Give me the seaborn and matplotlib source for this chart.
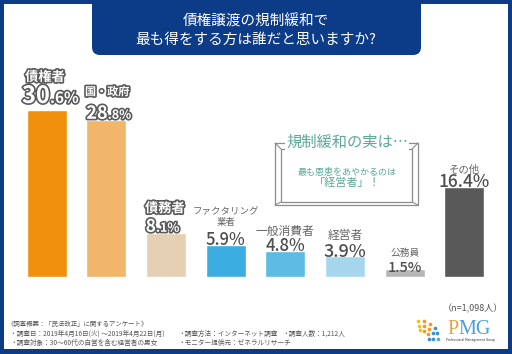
import numpy as np
import matplotlib.pyplot as plt
import matplotlib.patheffects as pe
from matplotlib.patches import FancyBboxPatch, Rectangle
import seaborn as sns

# Data
categories = ['債権者', '国・政府', '債務者', 'ファクタリング業者', '一般消費者', '経営者', '公務員', 'その他']
values = [30.6, 28.8, 8.1, 5.9, 4.8, 3.9, 1.5, 16.4]
bar_colors = ['#f0900c', '#f1b66a', '#e6d0b4', '#3cade0', '#5dbbe4', '#a6d6ee', '#b6b6b6', '#595959']
navy = '#0c3b87'
teal = '#5aa898'

sns.set_theme(style='white')
plt.rcParams['font.family'] = ['Noto Sans CJK JP', 'DejaVu Sans']

fig = plt.figure(figsize=(5.12, 3.54), dpi=100)
fig.patch.set_facecolor('white')

# background axes in pixel units for the decorations
bg = fig.add_axes([0, 0, 1, 1])
bg.set_xlim(0, 512)
bg.set_ylim(354, 0)
bg.axis('off')

# bar axes
ax = fig.add_axes([16.65 / 512, 77 / 354, 477.7 / 512, 191.1 / 354])
ax.patch.set_alpha(0)
sns.barplot(x=categories, y=values, hue=categories, palette=bar_colors, legend=False,
            width=0.67, saturation=1, ax=ax)
ax.set_xlim(-0.5, 7.5)
ax.set_ylim(0, 35)
ax.axis('off')

PX = 0.72  # pixels -> points at 100 dpi
outline = [pe.withStroke(linewidth=2.4, foreground='#5a5a5a')]


def note(i, txt, dx, dy, **kw):
    ax.annotate(txt, xy=(i, values[i]), xytext=(dx * PX, dy * PX),
                textcoords='offset points', annotation_clip=False, **kw)


# outlined big labels: (integer part, decimal part, split dx, baseline dy, sizes, name, name dx, name dy, name size)
big = [
    ('30', '.6%', 3.5, 7, 17, 11, '債権者', -1.5, 33, 9.5),
    ('28', '.8%', 1.5, 1, 13, 9, '国・政府', 1, 28, 8),
    ('8', '.1%', -10, 1, 12.5, 9, '債務者', -1, 24.5, 9.5),
]
for i, (ip, dp, sx, by, s1, s2, name, nx, ny, ns) in enumerate(big):
    note(i, ip, sx, by, ha='right', va='baseline', fontsize=s1, color='white',
         fontweight='bold', path_effects=outline)
    note(i, dp, sx, by, ha='left', va='baseline', fontsize=s2, color='white',
         fontweight='bold', path_effects=outline)
    note(i, name, nx, ny, ha='center', va='center', fontsize=ns, color='white',
         fontweight='bold', path_effects=outline)

# plain labels: (index, value text, baseline dy, size, name lines)
plain = [
    (3, '5.9%', 0, 12, [('ファクタリング', 33, 6.8), ('業者', 22, 6.8)]),
    (4, '4.8%', 0, 12, [('一般消費者', 19, 8.5)]),
    (5, '3.9%', -1, 13, [('経営者', 20, 8.5)]),
    (6, '1.5%', -3, 10.5, [('公務員', 16, 7)]),
    (7, '16.4%', 0, 12.5, [('その他', 18, 7.5)]),
]
for i, vt, by, s, names in plain:
    note(i, vt, 0, by, ha='center', va='baseline', fontsize=s, color='#4f4f4f', fontweight='medium')
    for name, ny, ns in names:
        note(i, name, 0, ny, ha='center', va='center', fontsize=ns, color='#666666')

# navy border
for r in [(0, 0, 512, 4), (0, 0, 4, 354), (508, 0, 4, 354), (0, 349, 512, 5)]:
    bg.add_patch(Rectangle(r[:2], r[2], r[3], color=navy, lw=0))

# title banner
bg.add_patch(FancyBboxPatch((92, -20), 329, 75, boxstyle='round,pad=0,rounding_size=8',
                            color=navy, lw=0))
bg.text(256, 21, '債権譲渡の規制緩和で', ha='center', va='center', fontsize=10.5, color='white')
bg.text(256, 40, '最も得をする方は誰だと思いますか?', ha='center', va='center', fontsize=10.5, color='white')

# callout frame
x0, y0, x1, y1 = 275, 143, 418, 205
ix0, iy0, ix1, iy1 = 281, 149, 412, 202
bg.add_patch(Rectangle((x0, y0), x1 - x0, y1 - y0, fc='white', ec='#8c8c8c', lw=0.9))
bg.add_patch(Rectangle((ix0, iy0), ix1 - ix0, iy1 - iy0, fc='none', ec='#8c8c8c', lw=0.9))
for (a, b), (c, d) in [((x0, y0), (ix0, iy0)), ((x1, y0), (ix1, iy0)),
                       ((x0, y1), (ix0, iy1)), ((x1, y1), (ix1, iy1))]:
    bg.plot([a, c], [b, d], color='#8c8c8c', lw=0.8)
bg.text(347, 142.5, '規制緩和の実は…', ha='center', va='center', fontsize=11, color=teal,
        bbox=dict(fc='white', ec='none', pad=0.5))
bg.text(347, 172, '最も恩恵をあやかるのは', ha='center', va='center', fontsize=6.5, color=teal)
bg.text(347, 183, '「経営者」！', ha='center', va='center', fontsize=8, color=teal)

# footer
foot = '#555555'
bg.text(503, 309, '（n=1,098人）', ha='right', va='center', fontsize=6.5, color=foot)
bg.text(8, 324, '《調査概要：「民法改正」に関するアンケート》', ha='left', va='center', fontsize=4.6, color=foot)
bg.text(10, 334, '・調査日：2019年4月16日(火) 〜2019年4月22日(月)', ha='left', va='center', fontsize=4.8, color=foot)
bg.text(178, 334, '・調査方法：インターネット調査', ha='left', va='center', fontsize=4.8, color=foot)
bg.text(282, 334, '・調査人数：1,212人', ha='left', va='center', fontsize=4.8, color=foot)
bg.text(10, 343, '・調査対象：30〜60代の自営を含む経営者の男女', ha='left', va='center', fontsize=4.8, color=foot)
bg.text(178, 343, '・モニター提供元：ゼネラルリサーチ', ha='left', va='center', fontsize=4.8, color=foot)

# PMG logo
for r, n in [(17, 6), (12.5, 5), (8, 4)]:
    for k, ang in enumerate(np.linspace(100, -5, n)):
        t = np.radians(ang)
        col = ['#f5c200', '#f39a1e', '#f39a1e', '#3a8fd8', '#3a8fd8', '#4fb0c8'][min(k, 5)]
        bg.scatter(421 + r * np.cos(t), 338 - r * np.sin(t), marker='o', s=7, color=col, lw=0)
bg.text(447, 329, 'P', ha='left', va='center', fontsize=14.5, color='#e0a447', family='Liberation Serif')
bg.text(458, 329, 'MG', ha='left', va='center', fontsize=14.5, color='#4a9fd6', family='Liberation Serif')
bg.text(470, 339.5, 'Professional Management Group', ha='center', va='center', fontsize=2.2, color='#333333',
        family='DejaVu Sans')

fig.savefig('out.png', dpi=100)
